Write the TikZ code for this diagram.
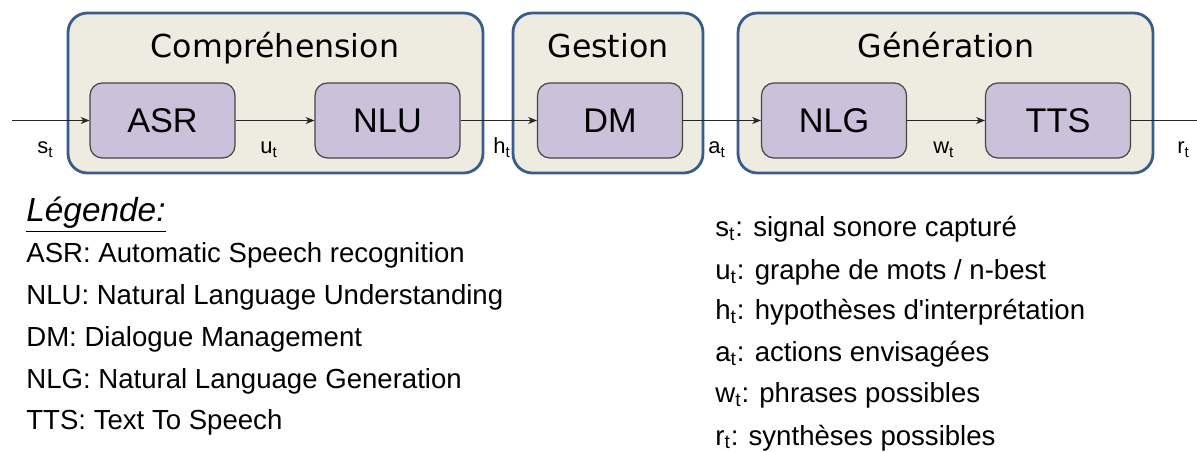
\documentclass[tikz,border=0pt]{standalone}
\usepackage{fontspec}
\setmainfont{Liberation Sans}
\newfontfamily\titlefont{DejaVu Sans}
\usetikzlibrary{arrows.meta}
\definecolor{paneltan}{RGB}{238, 236, 225}
\definecolor{panelblue}{RGB}{56, 93, 138}
\definecolor{blocklilac}{RGB}{204, 193, 218}
\definecolor{blockedge}{RGB}{70, 70, 70}

\begin{document}
\begin{tikzpicture}[
  x=0.02cm, y=-0.02cm,
  arrow/.style={->, >={Stealth[length=5pt, width=4pt]}, thin, black!85},
  panel/.style={rounded corners=11pt, fill=paneltan, draw=panelblue, line width=1.6pt, minimum height=3.2cm, inner sep=0pt},
  block/.style={rounded corners=7pt, fill=blocklilac, draw=blockedge, line width=0.7pt, minimum width=2.9cm, minimum height=1.5cm, font=\fontsize{19.5}{22}\selectfont},
  ptitle/.style={anchor=base, font=\titlefont\fontsize{18}{21}\selectfont},
  sig/.style={anchor=base west, inner sep=0pt, font=\fontsize{12.5}{14}\selectfont},
  legend/.style={anchor=base west, inner sep=0pt, font=\fontsize{15.7}{18}\selectfont},
]
\useasboundingbox (0,0) rectangle (1197,452);

% Panels
\node[panel, minimum width=8.3cm] (comp) at (275.5, 93) {};
\node[panel, minimum width=3.8cm] (gest) at (608, 93) {};
\node[panel, minimum width=8.3cm] (gen) at (945.5, 93) {};

\node[ptitle] (t-comp) at (275, 58) {Compréhension};
\node[ptitle] (t-gest) at (608, 58) {Gestion};
\node[ptitle] (t-gen) at (946, 58) {Génération};

% Modules
\node[block] (asr) at (162.5, 120.5) {ASR};
\node[block] (nlu) at (387.5, 120.5) {NLU};
\node[block] (dm) at (610, 120.5) {DM};
\node[block] (nlg) at (834, 120.5) {NLG};
\node[block] (tts) at (1058, 120.5) {TTS};

\coordinate (in) at (12, 120.5);
\coordinate (out) at (1197, 120.5);

\draw[arrow] (in) -- (asr);
\draw[arrow] (asr) -- (nlu);
\draw[arrow] (nlu) -- (dm);
\draw[arrow] (dm) -- (nlg);
\draw[arrow] (nlg) -- (tts);
\draw[thin, black!85] (tts) -- (out);

% Signals
\node[sig] (s) at (37, 154) {s\textsubscript{t}};
\node[sig] (u) at (260, 154) {u\textsubscript{t}};
\node[sig] (h) at (493, 154) {h\textsubscript{t}};
\node[sig] (a) at (708, 154) {a\textsubscript{t}};
\node[sig] (w) at (933, 154) {w\textsubscript{t}};
\node[sig] (r) at (1177, 154) {r\textsubscript{t}};

% Legend
\node[anchor=base west, inner sep=0pt, font=\fontsize{19}{22}\selectfont\itshape] (leg) at (26, 222) {\underline{Légende:}};
\node[legend] (leg-asr) at (26, 263) {ASR: Automatic Speech recognition};
\node[legend] (leg-nlu) at (26, 305) {NLU: Natural Language Understanding};
\node[legend] (leg-dm) at (26, 347) {DM: Dialogue Management};
\node[legend] (leg-nlg) at (26, 389) {NLG: Natural Language Generation};
\node[legend] (leg-tts) at (26, 430) {TTS: Text To Speech};

\node[legend] (leg-s) at (715, 237) {s\textsubscript{t}: signal sonore capturé};
\node[legend] (leg-u) at (715, 280) {u\textsubscript{t}: graphe de mots / n-best};
\node[legend] (leg-h) at (715, 320) {h\textsubscript{t}: hypothèses d\textquotesingle interprétation};
\node[legend] (leg-a) at (715, 362) {a\textsubscript{t}: actions envisagées};
\node[legend] (leg-w) at (715, 403) {w\textsubscript{t}: phrases possibles};
\node[legend] (leg-r) at (715, 445) {r\textsubscript{t}: synthèses possibles};
\end{tikzpicture}
\end{document}
